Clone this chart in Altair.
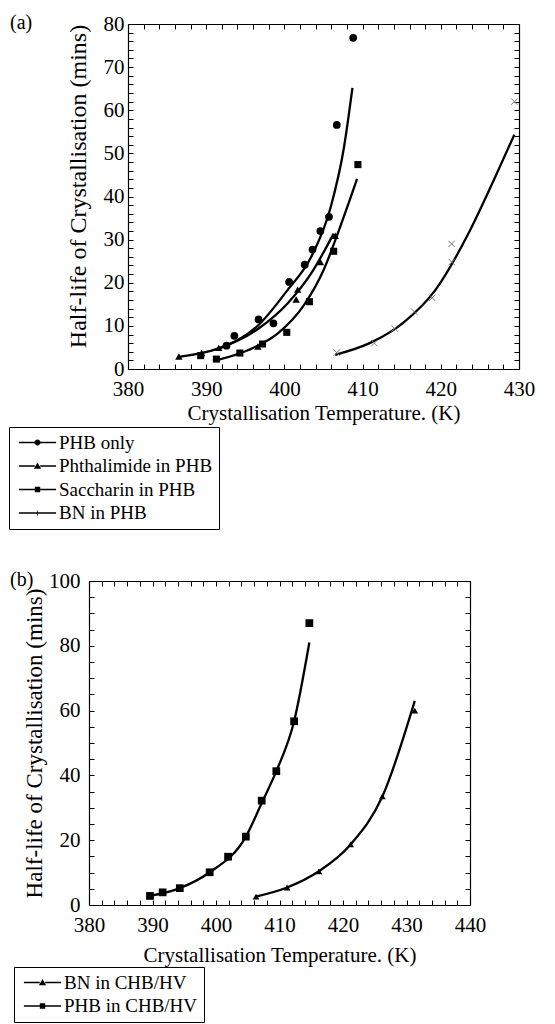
import altair as alt
import pandas as pd

FONT = "Liberation Serif, Times New Roman, serif"

# ---------------- Panel (a) ----------------
a_series = ["PHB only", "Phthalimide in PHB", "Saccharin in PHB", "BN in PHB"]

# measured points (crystallisation temperature K, half-life mins)
a_phb_T = [392.6, 393.6, 396.7, 398.6, 400.6, 402.6, 403.6, 404.6, 405.7, 406.7, 408.8]
a_phb_H = [5.4, 7.7, 11.5, 10.6, 20.2, 24.2, 27.7, 32.0, 35.3, 56.6, 76.8]
a_pht_T = [386.5, 389.4, 391.6, 396.6, 401.5, 401.7, 404.6, 406.5]
a_pht_H = [2.9, 3.7, 4.9, 5.2, 16.1, 18.4, 24.8, 30.9]
a_sac_T = [389.3, 391.3, 394.3, 397.2, 400.3, 403.2, 406.3, 409.4]
a_sac_H = [3.1, 2.3, 3.7, 5.8, 8.5, 15.6, 27.3, 47.4]
a_bn_T = [406.7, 411.5, 414.1, 416.6, 418.9, 421.4, 421.4, 429.4]
a_bn_H = [3.8, 6.0, 9.4, 13.3, 16.5, 24.8, 29.0, 62.0]

# fitted curves
a_phb_fit_T = [391.5, 396.7, 400.4, 403.4, 405.9, 407.6, 408.7]
a_phb_fit_H = [4.6, 10.2, 18.3, 25.9, 37.4, 51.2, 65.2]
a_pht_fit_T = [386.5, 391.6, 396.7, 400.4, 403.4, 406.3]
a_pht_fit_H = [2.8, 4.8, 9.4, 15.2, 22.1, 31.4]
a_sac_fit_T = [391.5, 395.4, 399.2, 402.5, 405.0, 407.1, 409.3]
a_sac_fit_H = [2.1, 4.4, 8.3, 14.8, 22.9, 32.8, 44.1]
a_bn_fit_T = [406.5, 410.9, 415.1, 419.3, 423.5, 426.9, 429.4]
a_bn_fit_H = [3.3, 6.0, 10.6, 18.3, 31.3, 44.3, 54.3]

# ---------------- Panel (b) ----------------
b_series = ["BN in CHB/HV", "PHB in CHB/HV"]
b_bn_T = [406.3, 411.2, 416.2, 421.2, 426.2, 431.3]
b_bn_H = [2.6, 5.4, 10.4, 18.7, 33.5, 60.0]
b_phb_T = [389.6, 391.6, 394.3, 399.0, 401.9, 404.7, 407.2, 409.5, 412.3, 414.7]
b_phb_H = [2.8, 3.9, 5.2, 10.1, 14.9, 21.1, 32.2, 41.3, 56.7, 87.0]

b_bn_fit_T = [406.3, 411.2, 416.2, 421.2, 426.2, 431.3]
b_bn_fit_H = [2.6, 5.4, 10.4, 18.7, 33.5, 63.0]
b_phb_fit_T = [389.6, 394.3, 399.0, 404.7, 407.2, 409.5, 412.3, 414.7]
b_phb_fit_H = [2.8, 5.2, 10.1, 21.1, 31.5, 41.3, 56.7, 81.0]

# axis ticks
a_x_ticks = list(range(380, 431, 2))
a_y_ticks = list(range(0, 81, 2))
b_x_ticks = list(range(380, 441, 2))
b_y_ticks = list(range(0, 101, 5))

X_TITLE = "Crystallisation Temperature. (K)"
Y_TITLE = "Half-life of Crystallisation (mins)"

# legend symbols (all filled): a line with the marker in the middle
_L = "M-3.1,-0.13H-0.45V0.13H-3.1Z"
_R = "M0.45,-0.13H3.1V0.13H0.45Z"
LEG_CIRCLE = _L + _R + "M0.5,0A0.5,0.5,0,1,1,-0.5,0A0.5,0.5,0,1,1,0.5,0Z"
LEG_TRI = _L + _R + "M0,-0.6L0.6,0.45L-0.6,0.45Z"
LEG_SQ = _L + _R + "M-0.45,-0.45H0.45V0.45H-0.45Z"
LEG_X = "M-3.1,-0.11H3.1V0.11H-3.1Z" + "M-0.06,-0.4H0.06V0.4H-0.06Z"
CROSS = "M-1,-1L1,1M1,-1L-1,1"

TICK_IN = alt.ExprRef(expr="-5")


def make_df(names, t_lists, h_lists):
    rows = []
    for n, ts, hs in zip(names, t_lists, h_lists):
        for t, h in zip(ts, hs):
            rows.append({"series": n, "T": t, "H": h})
    return pd.DataFrame(rows)


def panel(pts, fit, names, shapes, sizes, leg_paths, xdom, ydom, xticks, xevery,
          yticks, yevery, w, h, inset, tag, leg_x, leg_y, ytitle_size,
          ytitle_pad, ylab_pad, xtitle_pad, ytitle_y, cross_name=None):
    xs = alt.Scale(domain=xdom, nice=False, zero=False, range=[inset, w])
    ys = alt.Scale(domain=ydom, nice=False)
    xax = alt.Axis(values=xticks, title=X_TITLE, grid=False,
                   labelExpr=f"datum.value % {xevery} === 0 ? datum.label : ''",
                   labelOverlap=False, labelFlush=False, tickSize=TICK_IN,
                   labelPadding=14, titlePadding=xtitle_pad, titleX=(inset + w) / 2)
    yax = alt.Axis(values=yticks, title=Y_TITLE, grid=False, offset=-inset,
                   labelExpr=f"datum.value % {yevery} === 0 ? datum.label : ''",
                   labelOverlap=False, labelFlush=False, tickSize=TICK_IN,
                   labelPadding=ylab_pad, titlePadding=ytitle_pad,
                   titleFontSize=ytitle_size, titleY=ytitle_y)
    lines = alt.Chart(fit).mark_line(color="black", strokeWidth=2.3,
                                     interpolate="monotone").encode(
        x=alt.X("T:Q", scale=xs, axis=xax),
        y=alt.Y("H:Q", scale=ys, axis=yax),
        detail="series:N",
        order="T:Q",
    )
    solid_names = [n for n in names if n != cross_name]
    pts_solid = alt.Chart(pts).transform_filter(
        alt.FieldOneOfPredicate(field="series", oneOf=solid_names)
    ).mark_point(filled=True, color="black", opacity=1).encode(
        x=alt.X("T:Q", scale=xs, axis=None),
        y=alt.Y("H:Q", scale=ys, axis=None),
        shape=alt.Shape("series:N", scale=alt.Scale(domain=solid_names, range=shapes), legend=None),
        size=alt.Size("series:N", scale=alt.Scale(domain=solid_names, range=sizes), legend=None),
    )
    layers = [lines, pts_solid]
    if cross_name is not None:
        pts_cross = alt.Chart(pts).transform_filter(
            alt.FieldEqualPredicate(field="series", equal=cross_name)
        ).mark_point(shape=CROSS, filled=False, color="#777777", size=40,
                     strokeWidth=1, opacity=1).encode(
            x=alt.X("T:Q", scale=xs, axis=None),
            y=alt.Y("H:Q", scale=ys, axis=None),
        )
        layers.append(pts_cross)
    legend_layer = alt.Chart(pts).mark_point(
        opacity=0, filled=True, color="black"
    ).encode(
        x=alt.X("T:Q", scale=xs, axis=alt.Axis(orient="top", values=xticks, labels=False,
                                                 title=None, tickSize=TICK_IN, grid=False)),
        y=alt.Y("H:Q", scale=ys, axis=alt.Axis(orient="right", values=yticks, labels=False,
                                                 title=None, tickSize=TICK_IN, grid=False)),
        shape=alt.Shape("series:N", scale=alt.Scale(domain=names, range=leg_paths),
                        legend=alt.Legend(
                            title=None, orient="none", legendX=leg_x, legendY=leg_y,
                            direction="vertical", strokeColor="black", padding=6,
                            labelFont=FONT, labelFontSize=19, labelColor="black",
                            symbolSize=144, symbolFillColor="black",
                            symbolOpacity=1, symbolOffset=13, labelOffset=12,
                            rowPadding=3.5, labelLimit=400)),
    )
    layers.append(legend_layer)
    tag_layer = alt.Chart(pd.DataFrame({"tag": [tag]})).mark_text(
        align="left", baseline="top", font=FONT, fontSize=20, color="black"
    ).encode(text="tag:N", x=alt.value(-79), y=alt.value(-11))
    layers.append(tag_layer)
    return alt.layer(*layers).resolve_scale(
        shape="independent", size="independent"
    ).resolve_axis(x="independent", y="independent").properties(width=w, height=h)


pts_a = make_df(a_series, [a_phb_T, a_pht_T, a_sac_T, a_bn_T],
                [a_phb_H, a_pht_H, a_sac_H, a_bn_H])
fit_a = make_df(a_series, [a_phb_fit_T, a_pht_fit_T, a_sac_fit_T, a_bn_fit_T],
                [a_phb_fit_H, a_pht_fit_H, a_sac_fit_H, a_bn_fit_H])
pts_b = make_df(b_series, [b_bn_T, b_phb_T], [b_bn_H, b_phb_H])
fit_b = make_df(b_series, [b_bn_fit_T, b_phb_fit_T], [b_bn_fit_H, b_phb_fit_H])

panel_a = panel(pts_a, fit_a, a_series, ["circle", "triangle-up", "square"], [60, 50, 55],
                [LEG_CIRCLE, LEG_TRI, LEG_SQ, LEG_X], [380, 430], [0, 80],
                a_x_ticks, 10, a_y_ticks, 10, 430, 345, 39, "(a)", -80, 403,
                24, 13, 9, 3, 162, cross_name="BN in PHB")
panel_b = panel(pts_b, fit_b, b_series, ["triangle-up", "square"], [45, 60],
                [LEG_TRI, LEG_SQ], [380, 440], [0, 100],
                b_x_ticks, 10, b_y_ticks, 20, 381, 324, 0, "(b)", -75, 386,
                23, 2, 14, 9, 162)

chart = alt.concat(panel_a, panel_b, columns=1, spacing=40).properties(
    padding={"left": 0, "top": 5, "right": 0, "bottom": 0}
).configure_view(strokeOpacity=0).configure_axis(
    labelFont=FONT, titleFont=FONT, labelFontSize=21, titleFontSize=21,
    titleFontWeight="normal", labelColor="black", titleColor="black",
    domainColor="black", tickColor="black", domainWidth=1.2, tickWidth=1,
).configure_legend(labelFont=FONT)

chart.save("out.html", embed_options={"renderer": "svg", "actions": False})
